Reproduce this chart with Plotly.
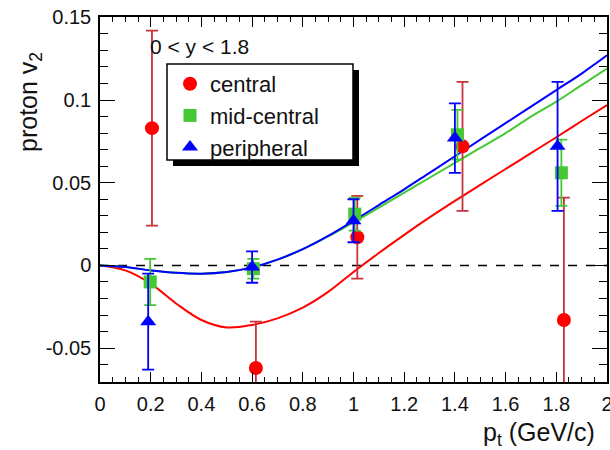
import plotly.graph_objects as go

# ---- data ----
central_x = [0.205, 0.615, 1.015, 1.43, 1.83]
central_y = [0.083, -0.062, 0.017, 0.072, -0.033]
central_err = [0.059, 0.028, 0.025, 0.039, 0.074]

mid_x = [0.198, 0.605, 1.005, 1.41, 1.82]
mid_y = [-0.010, -0.002, 0.031, 0.079, 0.056]
mid_err = [0.014, 0.006, 0.010, 0.015, 0.020]

per_x = [0.19, 0.60, 1.00, 1.40, 1.805]
per_y = [-0.034, -0.001, 0.027, 0.077, 0.072]
per_err = [0.029, 0.0095, 0.013, 0.021, 0.039]

fit_x = [0.0, 0.1, 0.2, 0.3, 0.4, 0.5, 0.6, 0.7, 0.8, 0.9, 1.0,
         1.1, 1.2, 1.3, 1.4, 1.5, 1.6, 1.7, 1.8, 1.9, 2.0]
fit_central = [0.0, -0.003, -0.011, -0.023, -0.033, -0.0375, -0.036, -0.032, -0.0255, -0.016, -0.004,
               0.0075, 0.0185, 0.029, 0.039, 0.0487, 0.0583, 0.0679, 0.0775, 0.0873, 0.097]
fit_mid = [0.0, -0.001, -0.003, -0.0045, -0.005, -0.004, -0.0012, 0.0035, 0.0098, 0.0175, 0.026,
           0.035, 0.044, 0.053, 0.062, 0.071, 0.080, 0.090, 0.099, 0.109, 0.119]
fit_per = [0.0, -0.001, -0.003, -0.0045, -0.005, -0.004, -0.0012, 0.0035, 0.0098, 0.0178, 0.027,
           0.0365, 0.046, 0.056, 0.066, 0.076, 0.086, 0.096, 0.106, 0.116, 0.127]

x_ticks = [0, 0.2, 0.4, 0.6, 0.8, 1.0, 1.2, 1.4, 1.6, 1.8, 2.0]
x_tick_labels = ["0", "0.2", "0.4", "0.6", "0.8", "1", "1.2", "1.4", "1.6", "1.8", "2"]
y_ticks = [-0.05, 0, 0.05, 0.1, 0.15]
y_tick_labels = ["-0.05", "0", "0.05", "0.1", "0.15"]

RED = "#ff0000"
RED_ERR = "#c8323c"
GREEN = "#44c833"
BLUE = "#0000ff"

W, H = 610, 450
ML, MR, MT, MB = 100, 3, 17, 68
PW, PH = W - ML - MR, H - MT - MB


def px(x):
    return (x - ML) / PW


def py(y):
    return (H - MB - y) / PH


fig = go.Figure()

# zero line
fig.add_trace(go.Scatter(x=[0, 2], y=[0, 0], mode="lines",
                         line=dict(color="black", width=1.5, dash="dash"),
                         showlegend=False, hoverinfo="skip"))

# fit curves
fig.add_trace(go.Scatter(x=fit_x, y=fit_central, mode="lines", line=dict(color=RED, width=2, shape="spline"),
                         showlegend=False))
fig.add_trace(go.Scatter(x=fit_x, y=fit_mid, mode="lines", line=dict(color=GREEN, width=2, shape="spline"),
                         showlegend=False))
fig.add_trace(go.Scatter(x=fit_x, y=fit_per, mode="lines", line=dict(color=BLUE, width=2, shape="spline"),
                         showlegend=False))

# data points
fig.add_trace(go.Scatter(x=central_x, y=central_y, mode="markers", name="central",
                         legendgroup="a",
                         marker=dict(symbol="circle", size=14, color=RED),
                         error_y=dict(type="data", array=central_err, color=RED_ERR, thickness=1.8, width=6)))
fig.add_trace(go.Scatter(x=mid_x, y=mid_y, mode="markers", name="mid-central",
                         legendgroup="b",
                         marker=dict(symbol="square", size=13, color=GREEN),
                         error_y=dict(type="data", array=mid_err, color=GREEN, thickness=1.8, width=6)))
fig.add_trace(go.Scatter(x=per_x, y=per_y, mode="markers", name="peripheral",
                         legendgroup="c",
                         marker=dict(symbol="triangle-up", size=14, color=BLUE),
                         error_y=dict(type="data", array=per_err, color=BLUE, thickness=1.8, width=6)))

font = "Liberation Sans, Arial, sans-serif"

shapes = [
    # legend shadow
    dict(type="rect", xref="paper", yref="paper", x0=px(173), x1=px(359), y0=py(166), y1=py(70),
         fillcolor="black", line=dict(width=0), layer="above"),
    # legend box
    dict(type="rect", xref="paper", yref="paper", x0=px(167), x1=px(353), y0=py(160), y1=py(64),
         fillcolor="white", line=dict(color="black", width=1.5), layer="above"),
]

annotations = [
    dict(text="0 < y < 1.8", x=px(148), y=py(46), xref="paper", yref="paper", xanchor="left",
         yanchor="middle", showarrow=False, font=dict(family=font, size=21, color="#111")),
    dict(text="proton v<sub>2</sub>", x=px(30), y=py(102), xref="paper", yref="paper",
         xanchor="center", yanchor="middle", textangle=-90, showarrow=False,
         font=dict(family=font, size=25, color="#111")),
    dict(text="p<sub>t</sub> (GeV/c)", x=px(597), y=py(434), xref="paper", yref="paper",
         xanchor="right", yanchor="middle", showarrow=False,
         font=dict(family=font, size=25, color="#111")),
]

fig.update_layout(
    width=W, height=H,
    margin=dict(l=ML, r=MR, t=MT, b=MB, autoexpand=False),
    paper_bgcolor="white", plot_bgcolor="white",
    font=dict(family=font, size=20, color="#111"),
    shapes=shapes,
    annotations=annotations,
    showlegend=True,
    legend=dict(x=px(170), y=py(63), xref="paper", yref="paper", xanchor="left", yanchor="top",
                bgcolor="rgba(0,0,0,0)", borderwidth=0, tracegroupgap=0,
                font=dict(family=font, size=22, color="#111"), itemwidth=30),
)

fig.update_xaxes(range=[0, 2], tickvals=x_ticks, ticktext=x_tick_labels,
                 ticks="inside", ticklen=10, tickwidth=1.3, tickcolor="black",
                 minor=dict(dtick=0.05, ticks="inside", ticklen=5, tickwidth=1.2, tickcolor="black"),
                 showline=True, linecolor="black", linewidth=1.5, mirror="ticks",
                 showgrid=False, zeroline=False, ticklabelstandoff=3, ticklabeloverflow="allow",
                 automargin=False,
                 tickfont=dict(family=font, size=20, color="#111"))
fig.update_yaxes(range=[-0.0705, 0.1502], tickvals=y_ticks, ticktext=y_tick_labels,
                 ticks="inside", ticklen=15, tickwidth=1.3, tickcolor="black",
                 minor=dict(dtick=0.01, ticks="inside", ticklen=8, tickwidth=1.2, tickcolor="black"),
                 showline=True, linecolor="black", linewidth=1.5, mirror="ticks",
                 showgrid=False, zeroline=False, ticklabelstandoff=3, ticklabeloverflow="allow",
                 automargin=False,
                 tickfont=dict(family=font, size=20, color="#111"))

fig.write_html("out.html")
